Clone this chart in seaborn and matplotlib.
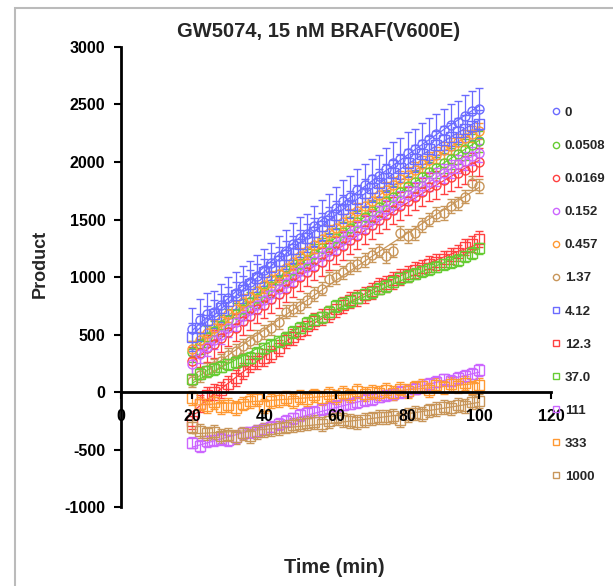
import matplotlib
matplotlib.use("Agg")
import matplotlib.pyplot as plt
import seaborn as sns
import numpy as np
from matplotlib.lines import Line2D
from matplotlib.patches import Rectangle

# data
time_min = [20, 22, 24, 26, 28, 30, 32, 34, 36, 38, 40, 42, 44, 46, 48, 50, 52, 54, 56, 58,
            60, 62, 64, 66, 68, 70, 72, 74, 76, 78, 80, 82, 84, 86, 88, 90, 92, 94, 96, 98, 100]

conc_labels = ['0', '0.0508', '0.0169', '0.152', '0.457', '1.37',
               '4.12', '12.3', '37.0', '111', '333', '1000']

p_0 = [550, 630, 680, 700, 760, 820, 860, 920, 960, 1010, 1060, 1120, 1180, 1230, 1290, 1340, 1370,
       1440, 1490, 1540, 1600, 1660, 1700, 1760, 1800, 1850, 1880, 1940, 1990, 2030, 2080, 2110,
       2160, 2200, 2240, 2280, 2320, 2350, 2400, 2440, 2460]
p_0508 = [350, 420, 480, 530, 580, 630, 680, 720, 780, 820, 870, 920, 970, 1010, 1060, 1110, 1150,
          1200, 1250, 1290, 1340, 1390, 1430, 1480, 1520, 1570, 1610, 1660, 1700, 1740, 1790, 1830,
          1870, 1910, 1950, 1990, 2030, 2070, 2110, 2150, 2180]
p_0169 = [270, 340, 380, 420, 470, 520, 560, 620, 660, 720, 760, 810, 850, 900, 950, 1000, 1040,
          1090, 1130, 1180, 1230, 1270, 1320, 1360, 1410, 1450, 1500, 1540, 1580, 1620, 1660, 1700,
          1740, 1780, 1800, 1840, 1870, 1900, 1930, 1960, 2000]
p_152 = [240, 330, 390, 450, 500, 560, 610, 660, 710, 760, 800, 850, 900, 950, 1000, 1050, 1090,
         1140, 1180, 1230, 1280, 1320, 1370, 1410, 1460, 1500, 1540, 1590, 1630, 1670, 1710, 1750,
         1790, 1830, 1870, 1900, 1940, 1980, 2010, 2050, 2080]
p_457 = [370, 450, 510, 560, 620, 680, 720, 780, 830, 880, 930, 980, 1030, 1080, 1130, 1180, 1230,
         1280, 1330, 1380, 1430, 1480, 1520, 1570, 1620, 1660, 1710, 1760, 1800, 1850, 1890, 1930,
         1980, 2020, 2060, 2100, 2140, 2170, 2210, 2240, 2270]
p_137 = [100, 150, 190, 230, 270, 320, 360, 400, 440, 480, 520, 560, 610, 700, 720, 750, 800,
         850, 900, 980, 1000, 1040, 1090, 1110, 1150, 1190, 1230, 1180, 1230, 1380, 1360, 1380,
         1450, 1500, 1550, 1560, 1620, 1640, 1700, 1820, 1790]
p_412 = [480, 560, 630, 680, 730, 790, 840, 890, 940, 990, 1040, 1090, 1140, 1190, 1240, 1290, 1340,
         1390, 1440, 1490, 1540, 1590, 1630, 1680, 1730, 1770, 1820, 1860, 1900, 1950, 1990, 2030,
         2070, 2110, 2150, 2190, 2220, 2260, 2290, 2310, 2330]
p_123 = [-250, -100, -30, 0, 20, 70, 120, 180, 240, 270, 300, 330, 380, 450, 480, 530, 570,
         620, 650, 680, 720, 760, 800, 820, 840, 880, 920, 940, 970, 1000, 1030, 1060,
         1080, 1110, 1130, 1160, 1180, 1210, 1260, 1290, 1330]
p_370 = [110, 160, 180, 200, 220, 240, 260, 280, 300, 340, 380, 410, 440, 470, 520, 560, 600,
         630, 650, 700, 750, 770, 790, 820, 850, 870, 900, 920, 960, 990, 1010, 1030,
         1050, 1070, 1090, 1110, 1130, 1150, 1180, 1210, 1250]
p_111 = [-440, -470, -430, -420, -410, -420, -390, -360, -350, -340, -320, -300, -280, -250, -230,
         -200, -180, -170, -150, -140, -120, -110, -100, -90, -70, -60, -40, -30, -20, 0, 10, 30,
         50, 70, 90, 110, 100, 120, 140, 160, 190]
p_333 = [-50, -100, -120, -90, -130, -110, -140, -100, -80, -60, -120, -80, -70, -50, -80, -40, -60,
         -30, -50, -20, -40, -10, -30, 10, -20, 0, -10, 20, -10, 30, 10, 40, 50, 20, 60, 40, 70,
         50, 80, 40, 60]
p_1000 = [-300, -340, -360, -350, -380, -370, -390, -360, -380, -350, -330, -320, -310, -300, -290,
          -280, -270, -260, -280, -250, -230, -240, -250, -260, -240, -230, -220, -220, -210, -240,
          -200, -180, -190, -160, -150, -130, -140, -110, -120, -90, -80]

err_sd = [180, 90, 120, 80, 70, 60, 120, 70, 50, 50, 60, 60]

series = [p_0, p_0508, p_0169, p_152, p_457, p_137,
          p_412, p_123, p_370, p_111, p_333, p_1000]

blue, green, red, purple, orange, brown = '#6B6BFF', '#66CC33', '#FF4040', '#CC66FF', '#FF9933', '#C8965A'
colors = [blue, green, red, purple, orange, brown,
          blue, red, green, purple, orange, brown]
markers = ['o'] * 6 + ['s'] * 6

sns.set_style("white")
plt.rcParams['font.family'] = ['Liberation Sans', 'DejaVu Sans']
plt.rcParams['font.weight'] = 'bold'
plt.rcParams['axes.unicode_minus'] = False

fig = plt.figure(figsize=(6.13, 5.86), dpi=100)
ax = fig.add_axes([0.197, 0.1348, 0.702, 0.785])

t = np.array(time_min)
for vals, sd, c, m in zip(series, err_sd, colors, markers):
    ax.errorbar(t, vals, yerr=sd, fmt=m, ms=6.5, mfc='none', mec=c, mew=1.0,
                ecolor=c, elinewidth=0.9, capsize=3, capthick=0.9, color=c, zorder=2)
    sns.regplot(x=t, y=np.array(vals), order=2, scatter=False, ci=None, color=c,
                line_kws={'lw': 0.9, 'zorder': 2}, ax=ax, truncate=True)

ax.set_xlim(0, 120)
ax.set_ylim(-1000, 3000)
ax.set_xticks([0, 20, 40, 60, 80, 100, 120])
ax.set_yticks([-1000, -500, 0, 500, 1000, 1500, 2000, 2500, 3000])
ax.spines['top'].set_visible(False)
ax.spines['right'].set_visible(False)
ax.spines['bottom'].set_position(('data', 0))
for s in ['left', 'bottom']:
    ax.spines[s].set_color('black')
    ax.spines[s].set_linewidth(2)
    ax.spines[s].set_zorder(2.6)
ax.set_axisbelow(False)
ax.tick_params(axis='both', direction='out', length=5, width=1.5, colors='black',
               labelsize=11.5, left=True, bottom=True)
ax.tick_params(axis='x', pad=7)
ax.tick_params(axis='y', pad=6)
for lbl in ax.get_xticklabels() + ax.get_yticklabels():
    lbl.set_fontweight('bold')
ax.set_xlabel('')
ax.set_ylabel('')

fig.text(0.519, 0.947, 'GW5074, 15 nM BRAF(V600E)', ha='center', va='center',
         fontsize=14.5, fontweight='bold')
fig.text(0.066, 0.549, 'Product', ha='center', va='center', rotation=90,
         fontsize=13, fontweight='bold')
fig.text(0.545, 0.031, 'Time (min)', ha='center', va='center',
         fontsize=14.3, fontweight='bold')

handles = [Line2D([], [], ls='none', marker=m, ms=4.5, mfc='none', mec=c, mew=1.0)
           for c, m in zip(colors, markers)]
leg = ax.legend(handles, conc_labels, loc='upper left', bbox_to_anchor=(0.890, 0.829),
                bbox_transform=fig.transFigure, frameon=False, handlelength=0.6,
                handletextpad=0.35, labelspacing=1.58, borderpad=0,
                prop={'weight': 'bold', 'size': 9.5})

fig.add_artist(Rectangle((0.0245, -0.1), 1.1, 1.086, transform=fig.transFigure,
                         fill=False, edgecolor='#BBBBBB', lw=1.5))

fig.savefig('out.png', dpi=100)
